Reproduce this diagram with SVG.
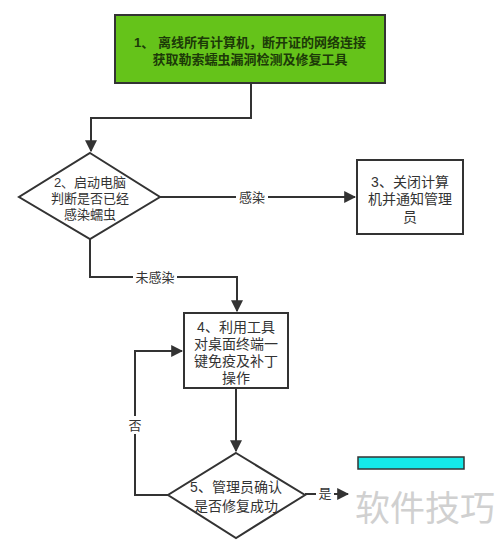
<svg xmlns="http://www.w3.org/2000/svg" width="500" height="544" viewBox="0 0 500 544">
<defs>
<style>
.box{fill:#fff;stroke:#333;stroke-width:2}
.t{font-family:"Liberation Sans","Noto Sans CJK SC",sans-serif;font-size:13px;fill:#333;text-anchor:middle;dominant-baseline:central}
.w{stroke:#333;stroke-width:2;fill:none}
.lbl{fill:#fff}
</style>
<marker id="ah" viewBox="0 0 10 10" refX="9" refY="5" markerWidth="6" markerHeight="6" orient="auto" markerUnits="strokeWidth">
<path d="M0,0 L10,5 L0,10 z" fill="#333"/>
</marker>
</defs>
<rect width="500" height="544" fill="#fff"/>
<g id="connectors">
<path class="w" d="M251,83 V118 H91 V151" marker-end="url(#ah)"/>
<path class="w" d="M160,197 H355" marker-end="url(#ah)"/>
<rect class="lbl" x="236" y="189" width="32" height="17"/>
<text class="t" x="252" y="197">感染</text>
<path class="w" d="M90,239 V277 H237 V311" marker-end="url(#ah)"/>
<rect class="lbl" x="133" y="269" width="44" height="17"/>
<text class="t" x="155" y="277">未感染</text>
<path class="w" d="M236,388 V451" marker-end="url(#ah)"/>
<path class="w" d="M168,495 H135 V351 H182" marker-end="url(#ah)"/>
<rect class="lbl" x="127" y="416" width="16" height="18"/>
<text class="t" x="135" y="425">否</text>
<path class="w" d="M305,494 H348" marker-end="url(#ah)"/>
<rect class="lbl" x="316" y="485" width="18" height="18"/>
<text class="t" x="325" y="493">是</text>
</g>
<g id="n1">
<rect x="115" y="15" width="270" height="68" fill="#65c31a" stroke="#333" stroke-width="2"/>
<text class="t" x="250" y="42" style="fill:#1c3a08;font-weight:bold">1、 离线所有计算机，断开证的网络连接</text>
<text class="t" x="250" y="59" style="fill:#1c3a08;font-weight:bold">获取勒索蠕虫漏洞检测及修复工具</text>
</g>
<g id="n2">
<polygon class="box" points="90,153 160,197 90,239 19,197"/>
<text class="t" x="90" y="182">2、启动电脑</text>
<text class="t" x="90" y="198">判断是否已经</text>
<text class="t" x="90" y="214">感染蠕虫</text>
</g>
<g id="n3">
<rect class="box" x="357" y="160" width="106" height="74"/>
<text class="t" x="410" y="182" style="font-size:14px">3、关闭计算</text>
<text class="t" x="410" y="199" style="font-size:14px">机并通知管理</text>
<text class="t" x="410" y="217" style="font-size:14px">员</text>
</g>
<g id="n4">
<rect class="box" x="184" y="313" width="104" height="75"/>
<text class="t" x="236" y="327" style="font-size:14px">4、利用工具</text>
<text class="t" x="236" y="344" style="font-size:14px">对桌面终端一</text>
<text class="t" x="236" y="361" style="font-size:14px">键免疫及补丁</text>
<text class="t" x="236" y="378" style="font-size:14px">操作</text>
</g>
<g id="n5">
<polygon class="box" points="236,453 305,495 236,538 168,495"/>
<text class="t" x="236" y="487" style="font-size:14px">5、管理员确认</text>
<text class="t" x="236" y="506" style="font-size:14px">是否修复成功</text>
</g>
<g id="n6">
<rect x="358" y="457" width="106" height="12" fill="#14e8e8" stroke="#333" stroke-width="1.5"/>
</g>
<text x="355" y="521" font-family="Noto Sans CJK SC,sans-serif" font-size="35" fill="#d0d0d0">软件技巧</text>
</svg>
